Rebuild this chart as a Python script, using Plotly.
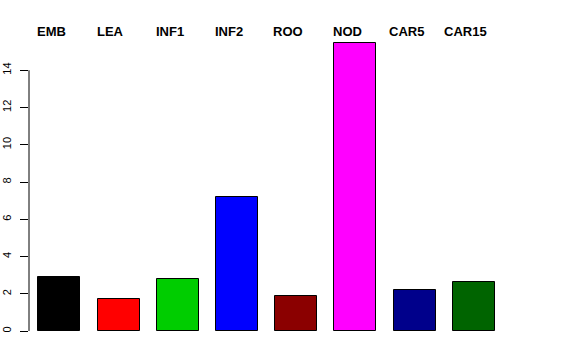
import plotly.graph_objects as go

categories = ["EMB", "LEA", "INF1", "INF2", "ROO", "NOD", "CAR5", "CAR15"]
values = [2.92, 1.73, 2.77, 7.2, 1.89, 15.44, 2.2, 2.64]
colors = ["#000000", "#FF0000", "#00CD00", "#0000FF", "#8B0000", "#FF00FF", "#00008B", "#006400"]
ytick_vals = [0, 2, 4, 6, 8, 10, 12, 14]

xpos = list(range(len(categories)))

fig = go.Figure()
fig.add_trace(go.Bar(
    x=xpos, y=values, width=0.71,
    marker=dict(color=colors, line=dict(color="#000000", width=1)),
    showlegend=False, hoverinfo="x+y",
))

for i, c in enumerate(categories):
    fig.add_annotation(x=i, y=1, xref="x", yref="paper", yanchor="middle",
                       text=c, showarrow=False, xshift=-8, yshift=2,
                       font=dict(family="Liberation Sans, Arial, sans-serif", size=13, color="#000000",
                                 weight="bold"))

# R-style y axis line spanning only the tick range
fig.add_shape(type="line", xref="paper", yref="y", x0=0, x1=0, y0=0, y1=14,
              line=dict(color="#000000", width=1))

fig.update_layout(
    template="none",
    width=576, height=360,
    margin=dict(l=29, r=43, t=33, b=29, pad=0),
    paper_bgcolor="white", plot_bgcolor="white",
    bargap=0,
    xaxis=dict(range=[-0.512, 8], showgrid=False, zeroline=False, showline=False,
               showticklabels=False, ticks="", automargin=False),
    yaxis=dict(range=[0, 16], showgrid=False, zeroline=False, showline=False, automargin=False,
               tickvals=ytick_vals, ticktext=[str(v) for v in ytick_vals],
               ticks="outside", ticklen=8, tickcolor="#000000", tickwidth=1,
               tickangle=-90, ticklabelstandoff=5,
               tickfont=dict(family="Liberation Sans, Arial, sans-serif", size=11, color="#000000")),
)

fig.write_html("out.html", config={"displayModeBar": False},
               post_script="document.body.style.margin='0';")
